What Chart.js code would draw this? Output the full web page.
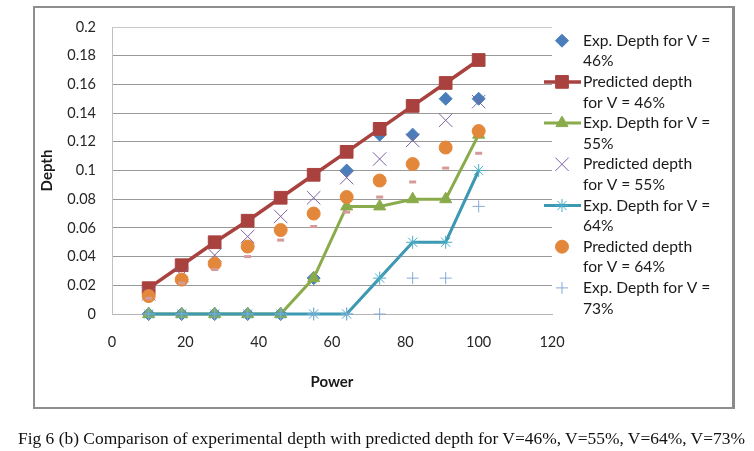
<!DOCTYPE html>
<html><head><meta charset="utf-8">
<script src="https://cdn.jsdelivr.net/npm/chart.js@4.4.0/dist/chart.umd.min.js"></script>
<style>
html,body{margin:0;padding:0;background:#fff;width:754px;height:451px;overflow:hidden;}
#wrap{position:absolute;left:0;top:0;width:754px;height:451px;}
#frame{position:absolute;left:33px;top:6px;width:697px;height:399px;border-left:2px solid #8e8e8e;border-top:2px solid #8e8e8e;border-right:3px solid #8a8a8a;border-bottom:2px solid #8e8e8e;pointer-events:none;}
#cap{position:absolute;left:18px;top:430px;font-family:"Liberation Serif","Times New Roman",serif;font-size:16.5px;white-space:nowrap;transform-origin:0 50%;color:#111;line-height:18px}
</style></head>
<body>
<div id="wrap"><canvas id="c" width="754" height="451"></canvas></div>
<div id="frame"></div>
<div id="cap">Fig 6 (b) Comparison of experimental depth with predicted depth for V=46%, V=55%, V=64%, V=73%</div>
<script>
// ---- data ----
const power = [10, 19, 28, 37, 46, 55, 64, 73, 82, 91, 100];
const expV46  = [0, 0, 0, 0, 0, 0.025, 0.1, 0.125, 0.125, 0.15, 0.15];
const predV46 = [0.018, 0.034, 0.050, 0.065, 0.081, 0.097, 0.113, 0.129, 0.145, 0.161, 0.177];
const expV55  = [0, 0, 0, 0, 0, 0.025, 0.075, 0.075, 0.08, 0.08, 0.125];
const predV55 = [0.014, 0.027, 0.041, 0.054, 0.068, 0.081, 0.095, 0.108, 0.121, 0.135, 0.148];
const expV64  = [0, 0, 0, 0, 0, 0, 0, 0.025, 0.05, 0.05, 0.1];
const predV64 = [0.0125, 0.024, 0.035, 0.047, 0.0585, 0.070, 0.0815, 0.093, 0.1045, 0.116, 0.1275];
const expV73  = [0, 0, 0, 0, 0, 0, 0, 0, 0.025, 0.025, 0.075];
const predV73 = [0.011, 0.0215, 0.031, 0.040, 0.0515, 0.061, 0.071, 0.0815, 0.092, 0.1017, 0.112];
const xTickLabels = ['0', '20', '40', '60', '80', '100', '120'];
const yTickLabels = ['0', '0.02', '0.04', '0.06', '0.08', '0.1', '0.12', '0.14', '0.16', '0.18', '0.2'];
const seriesNames = [
  ['Exp. Depth for V =', '46%'],
  ['Predicted depth', 'for V = 46%'],
  ['Exp. Depth for V =', '55%'],
  ['Predicted depth', 'for V = 55%'],
  ['Exp. Depth for V =', '64%'],
  ['Predicted depth', 'for V = 64%'],
  ['Exp. Depth for V =', '73%'],
  null
];
// ---- styles ----
const xy = arr => power.map((p, i) => ({x: p, y: arr[i]}));
function ds(idx, values, o) {
  return Object.assign({
    label: seriesNames[idx] ? seriesNames[idx].join(' ') : 'Predicted depth for V = 73%',
    legendLines: seriesNames[idx],
    data: xy(values),
    showLine: false,
    borderWidth: 0,
    pointBorderWidth: 1,
    clip: false,
    order: 20 - idx,
    tension: 0
  }, o);
}
const datasets = [
  ds(0, expV46, {pointStyle: 'rectRot', pointRadius: 6.5, pointBackgroundColor: '#4A7EBB', pointBorderColor: '#4A7EBB', borderColor: '#4A7EBB'}),
  ds(1, predV46, {showLine: true, borderWidth: 3.5, borderColor: '#A9423F', pointStyle: 'rect', pointRadius: 9, pointBackgroundColor: '#A9423F', pointBorderColor: '#A9423F'}),
  ds(2, expV55, {showLine: true, borderWidth: 3, borderColor: '#8AAB4B', pointStyle: 'triangle', pointRadius: 7, pointBackgroundColor: '#8AAB4B', pointBorderColor: '#8AAB4B'}),
  ds(3, predV55, {pointStyle: 'crossRot', pointRadius: 9.5, pointBackgroundColor: '#7E62A0', pointBorderColor: '#7E62A0', borderColor: '#7E62A0'}),
  ds(4, expV64, {showLine: true, borderWidth: 3, borderColor: '#3D98B1', pointStyle: 'star', pointRadius: 6.5, pointBackgroundColor: '#4BACC6', pointBorderColor: '#4BACC6'}),
  ds(5, predV64, {pointStyle: 'circle', pointRadius: 6.5, pointBackgroundColor: '#E3873A', pointBorderColor: '#E3873A', borderColor: '#E3873A'}),
  ds(6, expV73, {pointStyle: 'cross', pointRadius: 6, pointBackgroundColor: '#86A9D6', pointBorderColor: '#86A9D6', borderColor: '#86A9D6'}),
  ds(7, predV73, {pointStyle: 'line', pointRadius: 3.5, pointBorderWidth: 3, pointBackgroundColor: '#D59A99', pointBorderColor: '#D59A99', borderColor: '#D59A99'})
];

const LEG = {lineX0: 544, lineX1: 581, markX: 562, textX: 583, top: 40.7, itemH: 41.2, lineH: 20.6};
const sideLegend = {
  id: 'sideLegend',
  afterDraw(chart) {
    const ctx = chart.ctx;
    ctx.save();
    chart.data.datasets.forEach((d, i) => {
      if (!d.legendLines) return;
      const y = LEG.top + i * LEG.itemH;
      if (d.showLine) {
        ctx.strokeStyle = d.borderColor; ctx.lineWidth = d.borderWidth;
        ctx.beginPath(); ctx.moveTo(LEG.lineX0, y); ctx.lineTo(LEG.lineX1, y); ctx.stroke();
      }
      ctx.fillStyle = d.pointBackgroundColor; ctx.strokeStyle = d.pointBorderColor; ctx.lineWidth = d.pointBorderWidth;
      Chart.helpers.drawPoint(ctx, {pointStyle: d.pointStyle, radius: d.pointRadius, borderWidth: d.pointBorderWidth, rotation: 0}, LEG.markX, y);
      ctx.fillStyle = '#1a1a1a';
      ctx.font = '15.6px Lato';
      ctx.textBaseline = 'middle'; ctx.textAlign = 'left';
      d.legendLines.forEach((t, k) => ctx.fillText(t, LEG.textX, y + k * LEG.lineH));
    });
    ctx.restore();
  }
};

new Chart(document.getElementById('c'), {
  type: 'scatter',
  data: {datasets},
  plugins: [sideLegend],
  options: {
    responsive: false,
    animation: false,
    layout: {padding: {left: 0, top: 27, right: 202, bottom: 57}},
    plugins: {legend: {display: false}, tooltip: {enabled: false}},
    scales: {
      x: {
        type: 'linear', min: 0, max: 120,
        afterFit: s => { s.height = 80; },
        ticks: {stepSize: 20, padding: 20, color: '#262626', font: {family: 'Lato', size: 14.5},
          callback: (v, i) => xTickLabels[i]},
        grid: {display: false, drawTicks: false},
        border: {display: true, color: '#b4b4b4', width: 1},
        title: {display: true, text: 'Power', color: '#1a1a1a', font: {family: 'Lato', size: 15, weight: 'bold'}, padding: {top: 0, bottom: 3}}
      },
      y: {
        type: 'linear', min: 0, max: 0.2,
        afterFit: s => { s.width = 112; },
        ticks: {stepSize: 0.02, padding: 16, color: '#262626', font: {family: 'Lato', size: 14.5},
          callback: (v, i) => yTickLabels[i]},
        grid: {drawTicks: false, color: ctx => ctx.index === 10 ? '#c8c8c8' : (ctx.index === 0 ? '#b4b4b4' : '#999999'), lineWidth: 1},
        border: {display: true, color: '#c0c0c0', width: 1},
        title: {display: true, text: 'Depth', color: '#1a1a1a', font: {family: 'Lato', size: 15, weight: 'bold'}, padding: {top: 38, bottom: 0}}
      }
    }
  }
});
const cap = document.getElementById('cap');
const w = cap.getBoundingClientRect().width;
cap.style.transform = 'scaleX(' + (727 / w) + ')';
</script>
</body></html>
